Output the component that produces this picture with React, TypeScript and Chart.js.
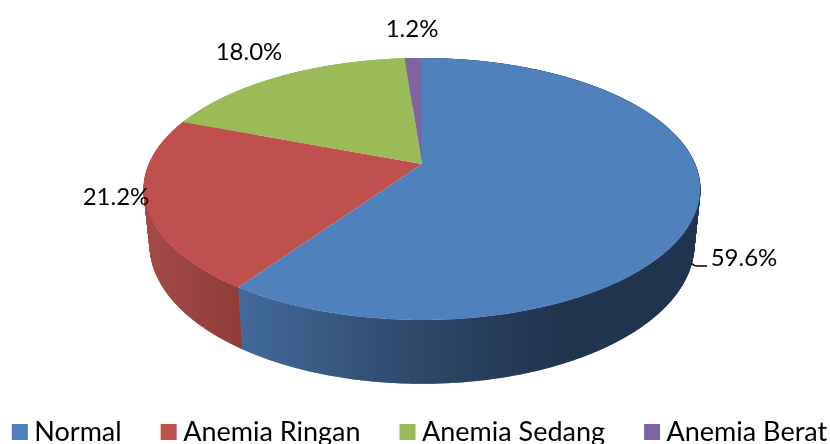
import React, { useEffect, useRef } from "react";
import { Chart, registerables } from "chart.js";

Chart.register(...registerables);

const categories = ["Normal", "Anemia Ringan", "Anemia Sedang", "Anemia Berat"];
const percentages = [59.6, 21.2, 18.0, 1.2];
const colors = ["#4F81BD", "#C0504D", "#9BBB59", "#8064A2"];

const FONT = "Lato, 'Open Sans', sans-serif";
const APEX_X = 422;
const APEX_Y = 164;
const RX = 273;
const RY = 126.2;
const TILT = 0.1908;
const WALL_SCALE_X = 0.978;
const WALL_SCALE_Y = 1.06;
const WALL_DROP = 54.5;

function project(angle: number, wall: boolean): [number, number] {
  const u = Math.cos(angle);
  const v = Math.sin(angle);
  const w = 1 - TILT * v;
  const x = (RX * u) / w;
  const y = (RY * v) / w;
  return wall
    ? [APEX_X + x * WALL_SCALE_X, APEX_Y + WALL_DROP + y * WALL_SCALE_Y]
    : [APEX_X + x, APEX_Y + y];
}

function wallFill(ctx: CanvasRenderingContext2D, index: number) {
  const g = ctx.createLinearGradient(150, 0, 700, 0);
  if (index === 0) {
    g.addColorStop(0.17, "#42699A");
    g.addColorStop(0.5, "#2C4768");
    g.addColorStop(0.75, "#1F344F");
    g.addColorStop(1, "#1F344F");
  } else if (index === 1) {
    g.addColorStop(0, "#A34A47");
    g.addColorStop(0.17, "#8F3C39");
  } else {
    g.addColorStop(0, colors[index]);
    g.addColorStop(1, colors[index]);
  }
  return g;
}

const pie3d = {
  id: "pie3d",
  afterLayout(chart: any) {
    // the legend's wide gaps need a row wider than the canvas, and it sits low
    const legend = chart.legend;
    legend.maxWidth = 1000;
    legend.fit();
    legend.left = -52;
    legend.right = 898;
    legend.width = 950;
    legend.top = 372.5;
    legend.bottom = 495;
    legend.height = 122.5;
  },
  beforeDatasetDraw(chart: any) {
    const ctx: CanvasRenderingContext2D = chart.ctx;
    const arcs = chart.getDatasetMeta(0).data;
    const STEP = 0.01;

    // side walls, back slices first so the front ones overlap them
    [3, 2, 1, 0].forEach((i) => {
      const { startAngle, endAngle } = arcs[i];
      const paint = wallFill(ctx, i);
      ctx.beginPath();
      for (let a = startAngle; a < endAngle; a += STEP) {
        const [x, y] = project(a, false);
        ctx.lineTo(x, y);
      }
      ctx.lineTo(...project(endAngle, false));
      for (let a = endAngle; a > startAngle; a -= STEP) {
        const [x, y] = project(a, true);
        ctx.lineTo(x, y);
      }
      ctx.lineTo(...project(startAngle, true));
      ctx.closePath();
      ctx.fillStyle = paint;
      ctx.fill();
      // generator lines fill the silhouette where the two rims cross
      ctx.strokeStyle = paint;
      ctx.lineWidth = 1;
      ctx.beginPath();
      for (let a = startAngle; a <= endAngle; a += STEP / 2) {
        ctx.moveTo(...project(a, false));
        ctx.lineTo(...project(a, true));
      }
      ctx.stroke();
    });

    // top faces
    [1, 2, 3, 0].forEach((i) => {
      const { startAngle, endAngle } = arcs[i];
      ctx.beginPath();
      ctx.moveTo(APEX_X, APEX_Y);
      for (let a = startAngle; a < endAngle; a += STEP) {
        const [x, y] = project(a, false);
        ctx.lineTo(x, y);
      }
      ctx.lineTo(...project(endAngle, false));
      ctx.closePath();
      ctx.fillStyle = colors[i];
      ctx.fill();
    });
    return false;
  },
  afterDatasetsDraw(chart: any) {
    const ctx: CanvasRenderingContext2D = chart.ctx;
    const spots: [number, number][] = [
      [744, 258],
      [116, 197],
      [249, 52],
      [412, 29],
    ];
    ctx.save();
    ctx.fillStyle = "#000";
    ctx.font = `24px ${FONT}`;
    ctx.textAlign = "center";
    ctx.textBaseline = "middle";
    percentages.forEach((p, i) => {
      ctx.fillText(`${p.toFixed(1)}%`, spots[i][0], spots[i][1]);
    });
    ctx.strokeStyle = "#000";
    ctx.lineWidth = 1.5;
    ctx.beginPath();
    ctx.moveTo(691, 263);
    ctx.quadraticCurveTo(694, 266, 698, 266);
    ctx.lineTo(707, 266);
    ctx.stroke();
    ctx.restore();
  },
};

export default function App() {
  const ref = useRef<HTMLCanvasElement>(null);
  useEffect(() => {
    const chart = new Chart(ref.current!, {
      type: "pie",
      data: {
        labels: categories,
        datasets: [{ data: percentages, backgroundColor: colors, borderWidth: 0 }],
      },
      options: {
        responsive: false,
        animation: false,
        plugins: {
          tooltip: { enabled: false },
          legend: {
            position: "bottom",
            labels: {
              color: "#000",
              font: { family: FONT, size: 27 },
              usePointStyle: true,
              pointStyle: "rect",
              boxWidth: 2,
              boxHeight: 16,
              padding: 46,
            },
          },
        },
      },
      plugins: [pie3d],
    } as any);
    return () => chart.destroy();
  }, []);
  return (
    <div style={{ position: "absolute", left: 0, top: 0, width: 830, height: 444, background: "#fff" }}>
      <canvas ref={ref} width={830} height={444} style={{ display: "block" }} />
    </div>
  );
}
